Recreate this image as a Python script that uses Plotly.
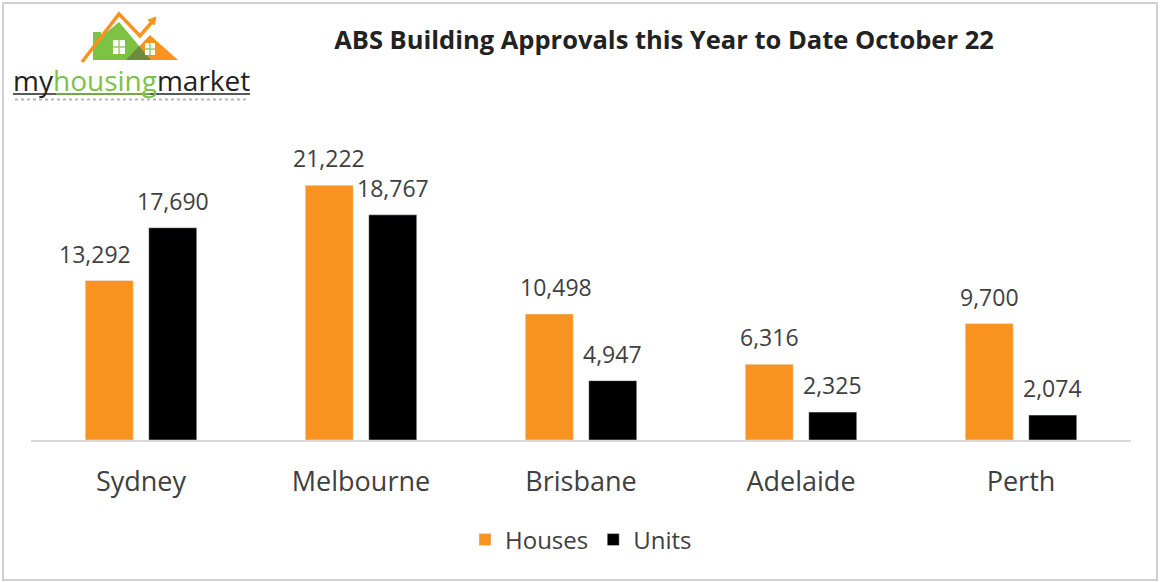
import plotly.graph_objects as go

cities = ["Sydney", "Melbourne", "Brisbane", "Adelaide", "Perth"]
houses = [13292, 21222, 10498, 6316, 9700]
units = [17690, 18767, 4947, 2325, 2074]
series_names = ["Houses", "Units"]
title_text = "ABS Building Approvals this Year to Date October 22"

ORANGE = "#F7931E"
BLACK = "#000000"
GREEN = "#7DC242"
TXT = "#404040"

W, H = 1160, 582
L, R, T, B = 31, 29, 140, 142
PW, PH = W - L - R, H - T - B

# small horizontal nudges of individual data labels (pixels), as placed in the original
label_nudge = {("Houses", "Sydney"): -14, ("Houses", "Brisbane"): 7}


def px(x):
    return (x - L) / PW


def py(y):
    return (H - B - y) / PH


def path(pts):
    return "M " + " L ".join(f"{px(a):.5f},{py(b):.5f}" for a, b in pts) + " Z"


def line_path(pts):
    return "M " + " L ".join(f"{px(a):.5f},{py(b):.5f}" for a, b in pts)


fig = go.Figure()
fig.add_trace(go.Bar(name=series_names[0], x=cities, y=houses, marker_color=ORANGE))
fig.add_trace(go.Bar(name=series_names[1], x=cities, y=units, marker_color=BLACK))

# data labels
annotations = []
for name, vals, shift in ((series_names[0], houses, -31.75), (series_names[1], units, 31.75)):
    for c, v in zip(cities, vals):
        annotations.append(dict(
            x=c, y=v, xref="x", yref="y", text=f"{v:,}", showarrow=False,
            xshift=shift + label_nudge.get((name, c), 0), yshift=27, yanchor="middle",
            font=dict(family="Open Sans", size=23, color=TXT)))

# logo text
annotations.append(dict(
    x=px(11), y=py(80), xref="paper", yref="paper", xanchor="left", yanchor="middle",
    showarrow=False,
    text="my<span style='color:%s'>housing</span>market" % GREEN,
    font=dict(family="Open Sans", size=28, color="#222222")))

shapes = []
# outer border
shapes.append(dict(type="rect", xref="paper", yref="paper",
                   x0=px(3), x1=px(1157), y0=py(580), y1=py(3),
                   line=dict(color="#D0D0D0", width=2)))
# logo graphics
shapes.append(dict(type="path", xref="paper", yref="paper",
                   path=path([(126, 60), (150, 35), (178, 60)]),
                   fillcolor=ORANGE, line=dict(width=0)))
shapes.append(dict(type="path", xref="paper", yref="paper",
                   path=path([(93, 60), (93, 32), (101, 32), (101, 37), (119, 22), (151, 60)]),
                   fillcolor=GREEN, line=dict(width=0)))
shapes.append(dict(type="path", xref="paper", yref="paper",
                   path=path([(126, 60), (139, 46), (151, 60)]),
                   fillcolor="#6E8B3D", line=dict(width=0)))
shapes.append(dict(type="path", xref="paper", yref="paper",
                   path=line_path([(82, 62), (119, 14), (140, 36), (152, 22)]),
                   line=dict(color=ORANGE, width=3.5)))
shapes.append(dict(type="path", xref="paper", yref="paper",
                   path=path([(148, 20), (156, 17), (154, 25)]),
                   fillcolor=ORANGE, line=dict(color=ORANGE, width=1)))
for (x0, y0, x1, y1) in ((113, 40, 125, 54), (145, 43, 155, 55)):
    shapes.append(dict(type="rect", xref="paper", yref="paper",
                       x0=px(x0), x1=px(x1), y0=py(y1), y1=py(y0),
                       fillcolor="white", line=dict(width=0)))
    shapes.append(dict(type="line", xref="paper", yref="paper",
                       x0=px((x0 + x1) / 2), x1=px((x0 + x1) / 2), y0=py(y1), y1=py(y0),
                       line=dict(color="#9BCB6C", width=1.5)))
    shapes.append(dict(type="line", xref="paper", yref="paper",
                       x0=px(x0), x1=px(x1), y0=py((y0 + y1) / 2), y1=py((y0 + y1) / 2),
                       line=dict(color="#9BCB6C", width=1.5)))
# logo underline and tagline
shapes.append(dict(type="line", xref="paper", yref="paper", x0=px(13), x1=px(250),
                   y0=py(94), y1=py(94), line=dict(color="#222222", width=1.5)))
shapes.append(dict(type="line", xref="paper", yref="paper", x0=px(56), x1=px(150),
                   y0=py(94), y1=py(94), line=dict(color=GREEN, width=1.5)))
shapes.append(dict(type="line", xref="paper", yref="paper", x0=px(15), x1=px(248),
                   y0=py(99.5), y1=py(99.5), line=dict(color="#B5B5B5", width=2, dash="dot")))

fig.update_layout(
    width=W, height=H,
    margin=dict(l=L, r=R, t=T, b=B),
    paper_bgcolor="white", plot_bgcolor="white",
    barmode="group", bargap=0.4227, bargroupgap=0.244,
    title=dict(text="<b>" + title_text + "</b>", xref="container", yref="container",
               x=664 / W, y=1 - 40 / H, xanchor="center", yanchor="middle",
               font=dict(family="Open Sans", size=25.5, color="#222222")),
    xaxis=dict(showline=True, linecolor="#D9D9D9", linewidth=1.5, showgrid=False,
               ticks="", ticklabelstandoff=17,
               tickfont=dict(family="Open Sans", size=27, color=TXT)),
    yaxis=dict(range=[0, 25000], visible=False, showgrid=False),
    legend=dict(orientation="h", x=0.5, xanchor="center", y=py(540), yanchor="middle",
                font=dict(family="Open Sans", size=24, color=TXT), traceorder="normal"),
    annotations=annotations,
    shapes=shapes,
    showlegend=True,
)

fig.write_html("out.html", config={"displayModeBar": False},
               post_script="document.body.style.margin='0';document.body.style.overflow='hidden';")
